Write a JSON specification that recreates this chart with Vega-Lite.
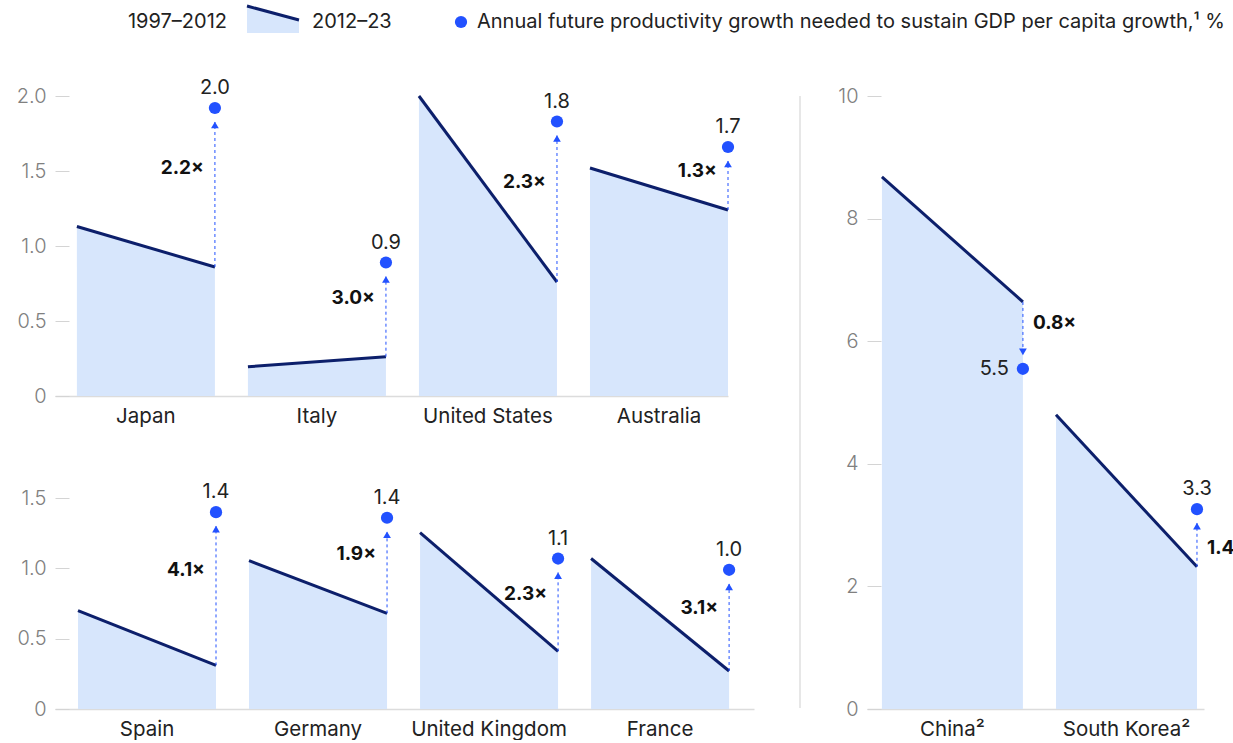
{
  "$schema": "https://vega.github.io/schema/vega-lite/v6.json",
  "padding": {"left": 16, "top": 0, "right": 0, "bottom": 0},
  "autosize": {"type": "pad"},
  "spacing": 40,
  "resolve": {"scale": {"xOffset": "independent"}},
  "config": {
    "view": {"stroke": null},
    "font": "Inter",
    "text": {"font": "Inter"},
    "axis": {"labelFont": "Inter", "titleFont": "Inter"}
  },
  "datasets": {
    "d": [
      {"country": "Japan", "panel": "top", "start": 1.13, "end": 0.86, "future": 1.92, "label": "2.0", "mult": "2.2×"},
      {"country": "Italy", "panel": "top", "start": 0.195, "end": 0.262, "future": 0.89, "label": "0.9", "mult": "3.0×"},
      {"country": "United States", "panel": "top", "start": 2.0, "end": 0.76, "future": 1.83, "label": "1.8", "mult": "2.3×"},
      {"country": "Australia", "panel": "top", "start": 1.52, "end": 1.24, "future": 1.66, "label": "1.7", "mult": "1.3×"},
      {"country": "Spain", "panel": "bottom", "start": 0.70, "end": 0.31, "future": 1.40, "label": "1.4", "mult": "4.1×"},
      {"country": "Germany", "panel": "bottom", "start": 1.055, "end": 0.68, "future": 1.36, "label": "1.4", "mult": "1.9×"},
      {"country": "United Kingdom", "panel": "bottom", "start": 1.255, "end": 0.41, "future": 1.07, "label": "1.1", "mult": "2.3×"},
      {"country": "France", "panel": "bottom", "start": 1.07, "end": 0.27, "future": 0.99, "label": "1.0", "mult": "3.1×"},
      {"country": "China²", "panel": "right", "start": 8.68, "end": 6.64, "future": 5.55, "label": "5.5", "mult": "0.8×"},
      {"country": "South Korea²", "panel": "right", "start": 4.80, "end": 2.32, "future": 3.26, "label": "3.3", "mult": "1.4×"}
    ]
  },
  "vconcat": [
    {
      "hconcat": [
        {
          "width": 192,
          "height": 27,
          "data": {"values": [{"t": "1997–2012"}]},
          "mark": {"type": "text", "align": "right", "baseline": "middle", "dx": -20, "dy": 2.5, "fontSize": 20, "color": "#222"},
          "encoding": {"x": {"value": "width"}, "text": {"field": "t"}}
        },
        {
          "width": 52,
          "height": 27,
          "data": {"values": [{"p": "1997–2012", "v": 1}, {"p": "2012–23", "v": 0.48}]},
          "encoding": {
            "x": {"field": "p", "type": "nominal", "scale": {"type": "point", "padding": 0, "domain": ["1997–2012", "2012–23"]}, "axis": null},
            "y": {"field": "v", "type": "quantitative", "scale": {"domain": [0, 1]}, "axis": null}
          },
          "layer": [
            {"mark": {"type": "area", "color": "#d7e6fc"}},
            {"mark": {"type": "line", "color": "#0c1f6b", "strokeWidth": 3}},
            {
              "transform": [{"filter": "datum.p === '2012–23'"}],
              "mark": {"type": "text", "align": "left", "baseline": "middle", "dx": 13, "dy": 2, "fontSize": 20, "color": "#222"},
              "encoding": {"text": {"field": "p"}}
            }
          ]
        },
        {
          "width": 324,
          "height": 32,
          "data": {"values": [{"t": "Annual future productivity growth needed to sustain GDP per capita growth,¹ %"}]},
          "layer": [
            {"mark": {"type": "circle", "color": "#2251ff", "size": 150, "opacity": 1}, "encoding": {}},
            {
              "mark": {"type": "text", "align": "left", "baseline": "middle", "dx": 16, "fontSize": 20, "color": "#222"},
              "encoding": {"text": {"field": "t"}}
            }
          ]
        }
      ],
      "spacing": 0,
      "align": "none",
      "bounds": "flush"
    },
    {
      "hconcat": [
        {
          "vconcat": [
            {
              "width": 673,
              "height": 300,
              "data": {"name": "d"},
              "transform": [{"filter": "datum.panel === 'top'"}],
              "encoding": {
                "x": {
                  "field": "country", "type": "nominal",
                  "scale": {"domain": ["Japan", "Italy", "United States", "Australia"], "paddingInner": 0.193, "paddingOuter": 0.064, "align": 1},
                  "axis": {"title": null, "ticks": false, "domain": true, "domainColor": "#dcdcdc", "domainWidth": 1.5, "labelFontSize": 20.5, "labelColor": "#222", "labelPadding": 10, "labelAngle": 0}
                }
              },
              "layer": [
                {
                  "transform": [{"fold": ["start", "end"], "as": ["period", "value"]}],
                  "mark": {"type": "area", "color": "#d7e6fc"},
                  "encoding": {
                    "xOffset": {"field": "period", "type": "nominal", "scale": {"type": "point", "padding": 0, "domain": ["start", "end"]}},
                    "y": {
                      "field": "value", "type": "quantitative", "scale": {"domain": [0, 2]},
                      "axis": {"title": null, "values": [0, 0.5, 1, 1.5, 2], "labelExpr": "datum.value == 0 ? '0' : format(datum.value, '.1f')", "domain": false, "grid": false, "ticks": true, "tickSize": 14, "tickColor": "#d4d4d4", "offset": -14, "labelFontSize": 20, "labelColor": "#808080", "labelPadding": 9, "labelFontWeight": 300}
                    },
                    "detail": {"field": "country"}
                  }
                },
                {
                  "transform": [{"fold": ["start", "end"], "as": ["period", "value"]}],
                  "mark": {"type": "line", "color": "#0c1f6b", "strokeWidth": 3},
                  "encoding": {
                    "xOffset": {"field": "period", "type": "nominal"},
                    "y": {"field": "value", "type": "quantitative"},
                    "detail": {"field": "country"}
                  }
                },
                {
                  "mark": {"type": "rule", "color": "#2251ff", "strokeWidth": 1, "strokeDash": [3, 3], "y2Offset": 14},
                  "encoding": {"xOffset": {"datum": "end"}, "y": {"field": "end", "type": "quantitative"}, "y2": {"field": "future"}}
                },
                {
                  "mark": {"type": "point", "shape": "triangle-up", "filled": true, "color": "#2251ff", "size": 60, "opacity": 1, "yOffset": 17},
                  "encoding": {"xOffset": {"datum": "end"}, "y": {"field": "future", "type": "quantitative"}}
                },
                {
                  "mark": {"type": "circle", "color": "#2251ff", "size": 150, "opacity": 1},
                  "encoding": {"xOffset": {"datum": "end"}, "y": {"field": "future", "type": "quantitative"}}
                },
                {
                  "mark": {"type": "text", "baseline": "bottom", "dy": -10, "fontSize": 20, "color": "#222"},
                  "encoding": {"xOffset": {"datum": "end"}, "y": {"field": "future", "type": "quantitative"}, "text": {"field": "label"}}
                },
                {
                  "transform": [{"calculate": "datum.end + 0.62 * (datum.future - datum.end)", "as": "mid"}],
                  "mark": {"type": "text", "align": "right", "baseline": "middle", "dx": -11, "fontSize": 19, "fontWeight": "bold", "color": "#111"},
                  "encoding": {"xOffset": {"datum": "end"}, "y": {"field": "mid", "type": "quantitative"}, "text": {"field": "mult"}}
                }
              ]
            },
            {
              "width": 699,
              "height": 225,
              "data": {"name": "d"},
              "transform": [{"filter": "datum.panel === 'bottom'"}],
              "encoding": {
                "x": {
                  "field": "country", "type": "nominal",
                  "scale": {"domain": ["Spain", "Germany", "United Kingdom", "France"], "paddingInner": 0.193, "paddingOuter": 0.14, "align": 0.48},
                  "axis": {"title": null, "ticks": false, "domain": true, "domainColor": "#dcdcdc", "domainWidth": 1.5, "labelFontSize": 20.5, "labelColor": "#222", "labelPadding": 10, "labelAngle": 0}
                }
              },
              "layer": [
                {
                  "transform": [{"fold": ["start", "end"], "as": ["period", "value"]}],
                  "mark": {"type": "area", "color": "#d7e6fc"},
                  "encoding": {
                    "xOffset": {"field": "period", "type": "nominal", "scale": {"type": "point", "padding": 0, "domain": ["start", "end"]}},
                    "y": {
                      "field": "value", "type": "quantitative", "scale": {"domain": [0, 1.5]},
                      "axis": {"title": null, "values": [0, 0.5, 1, 1.5], "labelExpr": "datum.value == 0 ? '0' : format(datum.value, '.1f')", "domain": false, "grid": false, "ticks": true, "tickSize": 14, "tickColor": "#d4d4d4", "offset": -14, "labelFontSize": 20, "labelColor": "#808080", "labelPadding": 9, "labelFontWeight": 300}
                    },
                    "detail": {"field": "country"}
                  }
                },
                {
                  "transform": [{"fold": ["start", "end"], "as": ["period", "value"]}],
                  "mark": {"type": "line", "color": "#0c1f6b", "strokeWidth": 3},
                  "encoding": {
                    "xOffset": {"field": "period", "type": "nominal"},
                    "y": {"field": "value", "type": "quantitative"},
                    "detail": {"field": "country"}
                  }
                },
                {
                  "mark": {"type": "rule", "color": "#2251ff", "strokeWidth": 1, "strokeDash": [3, 3], "y2Offset": 14},
                  "encoding": {"xOffset": {"datum": "end"}, "y": {"field": "end", "type": "quantitative"}, "y2": {"field": "future"}}
                },
                {
                  "mark": {"type": "point", "shape": "triangle-up", "filled": true, "color": "#2251ff", "size": 60, "opacity": 1, "yOffset": 17},
                  "encoding": {"xOffset": {"datum": "end"}, "y": {"field": "future", "type": "quantitative"}}
                },
                {
                  "mark": {"type": "circle", "color": "#2251ff", "size": 150, "opacity": 1},
                  "encoding": {"xOffset": {"datum": "end"}, "y": {"field": "future", "type": "quantitative"}}
                },
                {
                  "mark": {"type": "text", "baseline": "bottom", "dy": -10, "fontSize": 20, "color": "#222"},
                  "encoding": {"xOffset": {"datum": "end"}, "y": {"field": "future", "type": "quantitative"}, "text": {"field": "label"}}
                },
                {
                  "transform": [{"calculate": "datum.end + 0.62 * (datum.future - datum.end)", "as": "mid"}],
                  "mark": {"type": "text", "align": "right", "baseline": "middle", "dx": -11, "fontSize": 19, "fontWeight": "bold", "color": "#111"},
                  "encoding": {"xOffset": {"datum": "end"}, "y": {"field": "mid", "type": "quantitative"}, "text": {"field": "mult"}}
                }
              ]
            }
          ],
          "spacing": 88,
          "bounds": "flush",
          "resolve": {"scale": {"xOffset": "independent"}}
        },
        {
          "width": 10,
          "height": 612,
          "data": {"values": [{}]},
          "mark": {"type": "rule", "color": "#cfcfcf", "strokeWidth": 1},
          "encoding": {"x": {"datum": 1, "type": "quantitative", "scale": {"domain": [0, 1]}, "axis": null}}
        },
        {
          "width": 337,
          "height": 613,
          "data": {"name": "d"},
          "transform": [{"filter": "datum.panel === 'right'"}],
          "encoding": {
            "x": {
              "field": "country", "type": "nominal",
              "scale": {"domain": ["China²", "South Korea²"], "paddingInner": 0.19, "paddingOuter": 0.063, "align": 0.68},
              "axis": {"title": null, "ticks": false, "domain": true, "domainColor": "#dcdcdc", "domainWidth": 1.5, "labelFontSize": 20.5, "labelColor": "#222", "labelPadding": 10, "labelAngle": 0}
            }
          },
          "layer": [
            {
              "transform": [{"fold": ["start", "end"], "as": ["period", "value"]}],
              "mark": {"type": "area", "color": "#d7e6fc"},
              "encoding": {
                "xOffset": {"field": "period", "type": "nominal", "scale": {"type": "point", "padding": 0, "domain": ["start", "end"]}},
                "y": {
                  "field": "value", "type": "quantitative", "scale": {"domain": [0, 10]},
                  "axis": {"title": null, "values": [0, 2, 4, 6, 8, 10], "format": "d", "domain": false, "grid": false, "ticks": true, "tickSize": 14, "tickColor": "#d4d4d4", "offset": -14, "labelFontSize": 20, "labelColor": "#808080", "labelPadding": 9, "labelFontWeight": 300}
                },
                "detail": {"field": "country"}
              }
            },
            {
              "transform": [{"fold": ["start", "end"], "as": ["period", "value"]}],
              "mark": {"type": "line", "color": "#0c1f6b", "strokeWidth": 3},
              "encoding": {
                "xOffset": {"field": "period", "type": "nominal"},
                "y": {"field": "value", "type": "quantitative"},
                "detail": {"field": "country"}
              }
            },
            {
              "transform": [{"filter": "datum.future > datum.end"}],
              "mark": {"type": "rule", "color": "#2251ff", "strokeWidth": 1, "strokeDash": [3, 3], "y2Offset": 14},
              "encoding": {"xOffset": {"datum": "end"}, "y": {"field": "end", "type": "quantitative"}, "y2": {"field": "future"}}
            },
            {
              "transform": [{"filter": "datum.future < datum.end"}],
              "mark": {"type": "rule", "color": "#2251ff", "strokeWidth": 1, "strokeDash": [3, 3], "y2Offset": -14},
              "encoding": {"xOffset": {"datum": "end"}, "y": {"field": "end", "type": "quantitative"}, "y2": {"field": "future"}}
            },
            {
              "transform": [{"filter": "datum.future > datum.end"}],
              "mark": {"type": "point", "shape": "triangle-up", "filled": true, "color": "#2251ff", "size": 60, "opacity": 1, "yOffset": 17},
              "encoding": {"xOffset": {"datum": "end"}, "y": {"field": "future", "type": "quantitative"}}
            },
            {
              "transform": [{"filter": "datum.future < datum.end"}],
              "mark": {"type": "point", "shape": "triangle-down", "filled": true, "color": "#2251ff", "size": 60, "opacity": 1, "yOffset": -17},
              "encoding": {"xOffset": {"datum": "end"}, "y": {"field": "future", "type": "quantitative"}}
            },
            {
              "mark": {"type": "circle", "color": "#2251ff", "size": 150, "opacity": 1},
              "encoding": {"xOffset": {"datum": "end"}, "y": {"field": "future", "type": "quantitative"}}
            },
            {
              "transform": [{"filter": "datum.future > datum.end"}],
              "mark": {"type": "text", "baseline": "bottom", "dy": -10, "fontSize": 20, "color": "#222"},
              "encoding": {"xOffset": {"datum": "end"}, "y": {"field": "future", "type": "quantitative"}, "text": {"field": "label"}}
            },
            {
              "transform": [{"filter": "datum.future < datum.end"}],
              "mark": {"type": "text", "align": "right", "baseline": "middle", "dx": -14, "fontSize": 20, "color": "#222"},
              "encoding": {"xOffset": {"datum": "end"}, "y": {"field": "future", "type": "quantitative"}, "text": {"field": "label"}}
            },
            {
              "transform": [{"calculate": "datum.end + 0.32 * (datum.future - datum.end)", "as": "mid"}],
              "mark": {"type": "text", "align": "left", "baseline": "middle", "dx": 10, "fontSize": 19, "fontWeight": "bold", "color": "#111"},
              "encoding": {"xOffset": {"datum": "end"}, "y": {"field": "mid", "type": "quantitative"}, "text": {"field": "mult"}}
            }
          ]
        }
      ],
      "spacing": 36,
      "align": "none",
      "resolve": {"scale": {"xOffset": "independent"}}
    }
  ]
}
